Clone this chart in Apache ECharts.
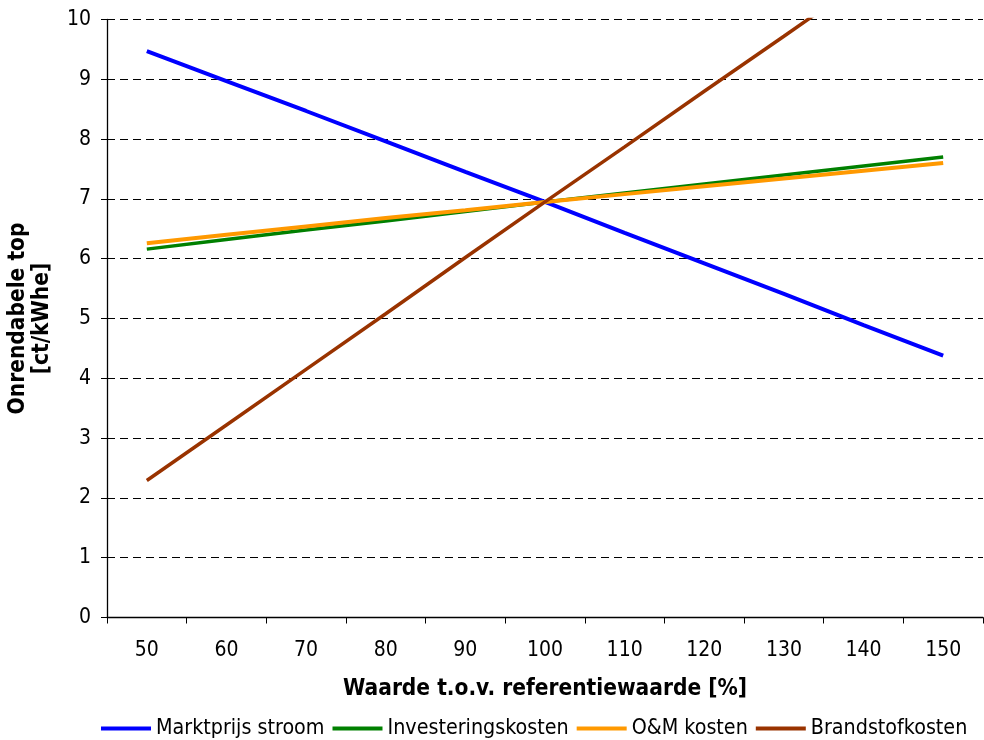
<!DOCTYPE html>
<html>
<head>
<meta charset="utf-8">
<script src="https://cdn.jsdelivr.net/npm/echarts@6/dist/echarts.min.js"></script>
<style>
  html, body { margin: 0; padding: 0; background: #fff; }
  #chart { width: 984px; height: 740px; }
</style>
</head>
<body>
<div id="chart"></div>
<script>
// Waarde t.o.v. referentiewaarde [%]
const categories = ['50', '60', '70', '80', '90', '100', '110', '120', '130', '140', '150'];

// Onrendabele top [ct/kWhe] per gevoeligheid
const marktprijsStroom   = [9.47, 8.97, 8.47, 7.96, 7.45, 6.95, 6.43, 5.92, 5.41, 4.89, 4.38];
const investeringskosten = [6.16, 6.32, 6.48, 6.63, 6.79, 6.95, 7.10, 7.25, 7.40, 7.55, 7.70];
const omKosten           = [6.26, 6.40, 6.54, 6.68, 6.81, 6.95, 7.08, 7.21, 7.34, 7.47, 7.60];
const brandstofkosten    = [2.29, 3.22, 4.15, 5.08, 6.02, 6.95, 7.87, 8.80, 9.72, 10.65, 11.57];

const seriesNames = ['Marktprijs stroom', 'Investeringskosten', 'O&M kosten', 'Brandstofkosten'];
const seriesColors = ['#0000FF', '#008000', '#FF9900', '#993300'];
const seriesWidths = [4, 3.5, 4, 3.5];
const seriesData = [marktprijsStroom, investeringskosten, omKosten, brandstofkosten];

const FONT = '"DejaVu Sans Condensed", "DejaVu Sans", sans-serif';

const chart = echarts.init(document.getElementById('chart'), null, { renderer: 'canvas' });

chart.setOption({
  animation: false,
  backgroundColor: '#ffffff',
  textStyle: { fontFamily: FONT },
  grid: { left: 107, right: 1, top: 19.5, bottom: 122.5, containLabel: false, outerBoundsMode: 'none' },
  legend: {
    top: 713,
    left: 96,
    itemWidth: 50,
    itemHeight: 4,
    itemGap: 8,
    icon: 'rect',
    textStyle: { fontFamily: FONT, fontSize: 21.3, color: '#000' },
    data: seriesNames
  },
  xAxis: {
    type: 'category',
    data: categories,
    boundaryGap: true,
    name: 'Waarde t.o.v. referentiewaarde [%]',
    nameLocation: 'middle',
    nameGap: 60,
    nameTextStyle: { fontFamily: FONT, fontSize: 22.5, fontWeight: 'bold', color: '#000' },
    axisLine: { lineStyle: { color: '#000', width: 1.3 } },
    axisTick: { show: true, length: 6, interval: 0, lineStyle: { color: '#000' } },
    axisLabel: { margin: 23, fontSize: 21, color: '#000', fontFamily: FONT, interval: 0 },
    splitLine: { show: false }
  },
  yAxis: {
    type: 'value',
    min: 0,
    max: 10,
    interval: 1,
    name: 'Onrendabele top\n[ct/kWhe]',
    nameLocation: 'middle',
    nameRotate: 90,
    nameGap: 53,
    nameTextStyle: { fontFamily: FONT, fontSize: 22.5, fontWeight: 'bold', color: '#000', lineHeight: 24 },
    axisLine: { show: true, lineStyle: { color: '#000', width: 1.3 } },
    axisTick: { show: true, length: 6, lineStyle: { color: '#000' } },
    axisLabel: { margin: 16, fontSize: 21, color: '#000', fontFamily: FONT },
    splitLine: { show: true, lineStyle: { color: '#000', width: 1, type: [8, 5] } }
  },
  series: seriesNames.map((name, i) => ({
    name: name,
    type: 'line',
    data: seriesData[i],
    showSymbol: false,
    symbol: 'none',
    clip: true,
    color: seriesColors[i],
    lineStyle: { color: seriesColors[i], width: seriesWidths[i] },
    z: 2 + i
  }))
});
</script>
</body>
</html>
